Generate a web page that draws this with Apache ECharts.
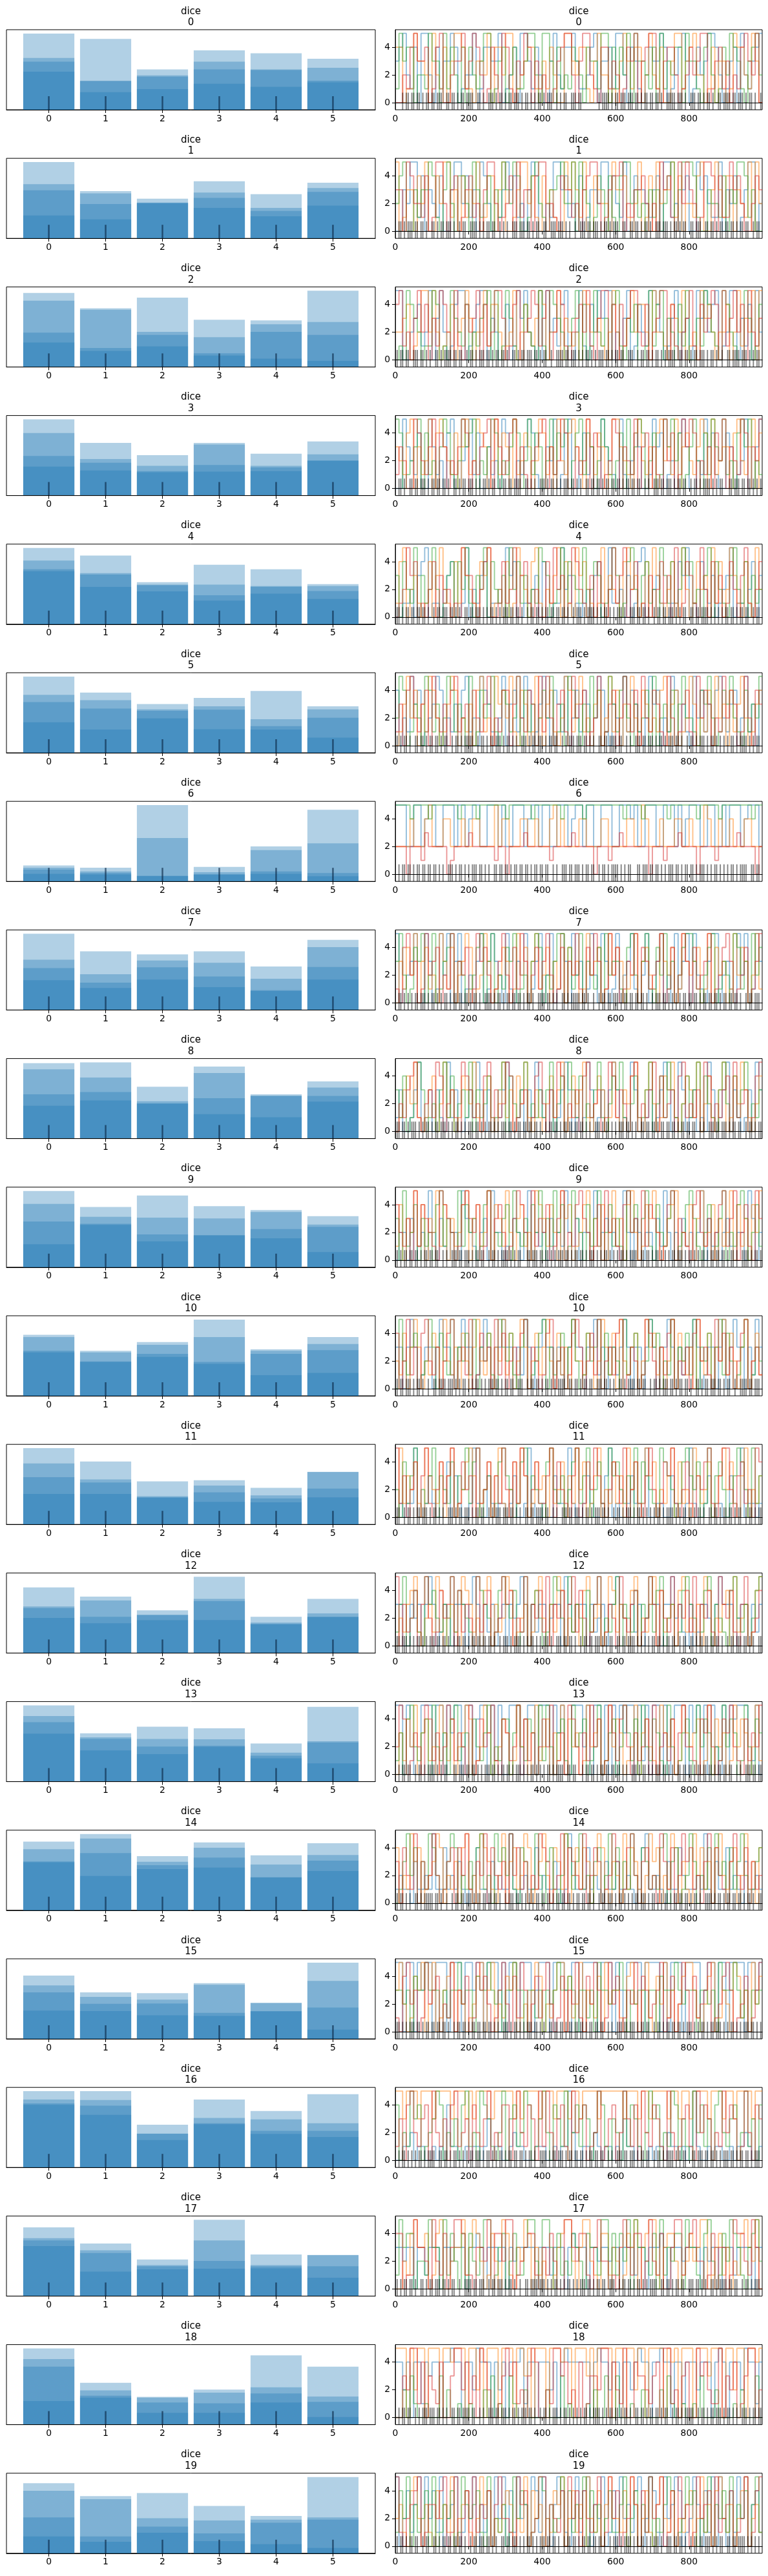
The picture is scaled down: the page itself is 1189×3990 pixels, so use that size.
<!DOCTYPE html>
<html>
<head>
<meta charset="utf-8">
<script src="https://cdn.jsdelivr.net/npm/echarts@6/dist/echarts.min.js"></script>
<style>
html, body { margin: 0; padding: 0; background: #fff; }
#chart { width: 1189px; height: 3990px; }
</style>
</head>
<body>
<div id="chart"></div>
<script>
const varName = 'dice'
const categories = [0, 1, 2, 3, 4, 5]
const chainColors = ['#1f77b4', '#ff7f0e', '#2ca02c', '#d62728']
const drawTicks = [0, 200, 400, 600, 800]
const valueTicks = [0, 2, 4]
const drawStep = 10      // one trace digit = 10 draws
const divStep = 5        // one divergence flag = 5 draws
const lastDraw = 999

// bar heights per category, the 4 chain layers (relative units, tallest first)
const hist00 = [[1.00,0.68,0.63,0.50],[0.93,0.38,0.375,0.23],[0.53,0.45,0.435,0.27],[0.78,0.63,0.53,0.34],[0.74,0.53,0.52,0.30],[0.67,0.55,0.38,0.36]]
const hist01 = [[1.00,0.71,0.63,0.30],[0.62,0.59,0.45,0.25],[0.52,0.47,0.465,0.46],[0.75,0.60,0.53,0.40],[0.58,0.40,0.36,0.29],[0.73,0.66,0.61,0.43]]
const hist02 = [[0.97,0.87,0.45,0.32],[0.77,0.75,0.25,0.21],[0.91,0.46,0.42,0.27],[0.62,0.39,0.18,0.15],[0.61,0.56,0.46,0.11],[1.00,0.59,0.42,0.08]]
const hist03 = [[1.00,0.82,0.52,0.38],[0.69,0.48,0.43,0.33],[0.53,0.39,0.32,0.305],[0.69,0.67,0.40,0.315],[0.55,0.39,0.37,0.32],[0.71,0.54,0.46,0.455]]
const hist04 = [[1.00,0.835,0.72,0.695],[0.90,0.67,0.65,0.49],[0.55,0.52,0.51,0.43],[0.78,0.52,0.38,0.31],[0.72,0.50,0.49,0.40],[0.525,0.50,0.435,0.33]]
const hist05 = [[1.00,0.76,0.665,0.40],[0.79,0.69,0.58,0.305],[0.64,0.57,0.55,0.45],[0.72,0.61,0.565,0.31],[0.81,0.44,0.35,0.305],[0.61,0.57,0.46,0.20]]
const hist06 = [[0.21,0.18,0.155,0.10],[0.18,0.13,0.11,0.09],[1.00,0.57,0.074,0.07],[0.19,0.12,0.094,0.087],[0.46,0.41,0.13,0.10],[0.94,0.50,0.11,0.068]]
const hist07 = [[1.00,0.66,0.55,0.39],[0.77,0.47,0.36,0.29],[0.73,0.65,0.56,0.40],[0.77,0.62,0.44,0.30],[0.57,0.41,0.26,0.25],[0.92,0.825,0.565,0.40]]
const hist08 = [[0.99,0.91,0.58,0.43],[1.00,0.80,0.61,0.50],[0.68,0.49,0.462,0.459],[0.945,0.86,0.53,0.32],[0.58,0.562,0.56,0.28],[0.75,0.67,0.56,0.485]]
const hist09 = [[1.00,0.83,0.60,0.30],[0.79,0.66,0.57,0.555],[0.94,0.65,0.43,0.34],[0.80,0.64,0.422,0.416],[0.75,0.725,0.50,0.38],[0.67,0.56,0.53,0.20]]
const hist10 = [[0.80,0.77,0.59,0.57],[0.59,0.57,0.45,0.444],[0.705,0.67,0.55,0.51],[1.00,0.77,0.444,0.42],[0.61,0.59,0.55,0.27],[0.77,0.68,0.60,0.30]]
const hist11 = [[1.00,0.80,0.62,0.40],[0.825,0.59,0.55,0.40],[0.565,0.37,0.356,0.35],[0.58,0.51,0.42,0.295],[0.48,0.38,0.34,0.29],[0.69,0.687,0.47,0.356]]
const hist12 = [[0.86,0.61,0.59,0.46],[0.74,0.69,0.475,0.39],[0.56,0.50,0.498,0.43],[1.00,0.71,0.68,0.434],[0.475,0.40,0.383,0.377],[0.71,0.52,0.478,0.47]]
const hist13 = [[1.00,0.86,0.78,0.63],[0.633,0.58,0.56,0.41],[0.72,0.56,0.46,0.36],[0.70,0.556,0.47,0.456],[0.50,0.38,0.34,0.305],[0.98,0.53,0.514,0.24]]
const hist14 = [[0.90,0.80,0.64,0.63],[1.00,0.94,0.75,0.45],[0.71,0.635,0.59,0.54],[0.89,0.82,0.69,0.56],[0.72,0.60,0.432,0.43],[0.88,0.725,0.65,0.515]]
const hist15 = [[0.83,0.70,0.61,0.37],[0.61,0.55,0.46,0.364],[0.60,0.515,0.464,0.31],[0.73,0.71,0.34,0.30],[0.473,0.47,0.364,0.36],[1.00,0.76,0.41,0.12]]
const hist16 = [[1.00,0.89,0.84,0.82],[1.00,0.885,0.81,0.69],[0.56,0.445,0.442,0.36],[0.89,0.65,0.58,0.566],[0.74,0.63,0.48,0.44],[0.96,0.58,0.48,0.40]]
const hist17 = [[0.90,0.76,0.73,0.655],[0.69,0.60,0.565,0.32],[0.48,0.405,0.39,0.35],[1.00,0.73,0.46,0.36],[0.546,0.405,0.389,0.363],[0.54,0.536,0.39,0.24]]
const hist18 = [[1.00,0.86,0.76,0.31],[0.55,0.45,0.38,0.354],[0.364,0.354,0.29,0.155],[0.46,0.42,0.28,0.155],[0.91,0.49,0.41,0.29],[0.76,0.37,0.30,0.10]]
const hist19 = [[0.92,0.82,0.47,0.22],[0.75,0.71,0.22,0.15],[0.79,0.46,0.35,0.27],[0.62,0.43,0.26,0.16],[0.49,0.44,0.40,0.12],[1.00,0.47,0.44,0.07]]

// trace values, one digit per 10 draws, 4 chains per dice
const trace00 = [
  '3452140552 0413354012 2501443350 1240553142 0035214453 1124503341 5520431024 3354012453 0142355420 1340521345',
  '4401153320 5214035541 1033250442 5501234410 3142005532 4410352201 0353144025 2140035513 4522014033 0154421530',
  '1534402215 3305142040 4213550134 0241135520 5530412143 2043315504 1425053321 4051324405 3310452014 2543103452',
  '0021453340 1450023351 3542014205 4103254031 2001345520 3552104413 2014350345 5103442012 4235501341 3021453250']
const trace01 = [
  '0032551403 2140035524 1305420013 5341203540 0215534120 4013325504 2150043321 3405512034 0053421150 3240135502',
  '5013304250 0425513041 3250144035 0013552410 4231005353 1500432205 3341025014 0523351402 2145003531 4403215052',
  '2450031335 4103520442 0531240315 3254001452 1033452250 5320143041 0455231203 1302450355 5410032214 0325541300',
  '3305422140 1552034013 4120355201 2405133045 5021043312 0345520134 4502133420 2053410525 3201554041 1534200243']
const trace02 = [
  '5500234125 0352014550 1245503200 4015352105 0523145002 5104253550 2035014215 5420135023 0153524501 2550314052',
  '2234012552 5201240235 3022514420 1250242135 4022503212 0542231025 2013524420 5221043250 1205342022 4025132505',
  '0105432011 5401053214 0213450501 5310042105 1054320135 0401521304 5103240015 1450320415 0031542105 4210053014',
  '4512035240 3154205104 2350412553 0145023541 3502541023 4251035504 0413552140 2355041023 5104235405 1352405213']
const trace03 = [
  '0053214005 3120450023 5140031205 4002135410 0325014500 2413005321 0510243001 5340120453 0021534100 4301250035',
  '3214503125 0453214035 1254302514 3051243025 4130521453 2053143015 5321045213 0452315034 2135405123 3045213504',
  '5401235041 2035410253 4502135402 1354025143 0251435024 5143025310 2405135402 4015352401 3520415325 1204535021',
  '1320054213 5043021354 0213450531 2450310234 5031254003 1250430125 4032150340 3105240153 5402130425 0321540325']
const trace04 = [
  '0011203450 1102340015 0213401120 5340011230 4001152301 0120340051 1203014500 2310011435 0104213012 3501102403',
  '1450231014 0352104153 2104350120 4015320451 0213504105 3421015032 1045230140 5310241052 0142305140 2531041052',
  '3042150312 5201340425 1032504213 0524130215 4301250432 1502430125 3014520341 2053140253 4120350421 0352140312',
  '0125340102 4031201053 3102450014 1250341020 0415230154 2103041025 1350240103 0241305014 3105204130 1420351024']
const trace05 = [
  '4021534012 3540213045 1205431025 0341254013 5204315024 1430254103 2051431025 3402154031 0524130452 1340251304',
  '0135240315 4201354021 3045120534 2510430152 0341025413 5120340251 4031520431 2145034012 5302140523 0413520134',
  '2540132054 1302541320 5014235104 3125041302 4250130542 0315240153 1452031240 5023140352 2104352014 3521041325',
  '1304521340 5213045123 0421350214 4035214305 1520341052 3401250134 0253140521 4310520134 1052430215 2430152043']
const trace06 = [
  '5552255245 5225552552 4552255525 2255524552 5522555245 5255225552 2555452255 5225552524 5552255225 2555245552',
  '2222422245 2224422242 2442222524 4222442242 2245242222 4422224422 2224422542 2242224422 4222542242 2422244222',
  '5555455554 5555555455 5545555555 4555555455 5555545555 5455555555 5545555455 5555455555 5545555545 5555555455',
  '2220222132 2222012222 3222222122 0222232222 2212222232 2222022212 2322222220 2221222322 2202222122 2223222202']
const trace07 = [
  '5012350053 0152503501 2035015320 5103250135 0250153052 3015205301 5023510250 1350205135 0521035502 3105250153',
  '0314250341 2053140235 4012530124 3015240351 2403150423 0152340152 4301250342 1053240153 2340150423 0152430251',
  '3520143502 5013450320 1245035021 4350120354 0213550412 5032140523 3104520351 0425130245 5310245013 2054130524',
  '1045230152 3402150324 0153420135 2041530241 3520140325 1042530152 4013250431 2350140253 0412350124 5301240135']
const trace08 = [
  '1300135013 0310513001 3153031013 5001303153 1030135301 0153013035 3010531013 0135301530 1301053013 5031013053',
  '0134251013 4025130143 2510341025 1304251031 0241350142 3510243015 1032451035 2014351024 3150241035 0142531024',
  '3140125301 2035140231 5031240135 0421350213 1350240531 4021351024 3510240135 0241531024 1350421035 2041350213',
  '0213451023 1540231054 3120450312 5401230145 2031540213 0451230154 1320450213 5041230451 2130540213 4051230145']
const trace09 = [
  '0220301205 2031022053 2102305220 1032025021 2030215203 0220512302 1052032022 0315202031 2025031202 3102205302',
  '1403251403 2514031245 0341250431 5203412054 3142053401 2450314025 1304520143 5201345021 4035124031 2504130425',
  '3051240312 0451320514 2301450213 4052130425 0315240153 2041350241 3105240351 0421350124 5310240135 0214530241',
  '4213051432 1054320145 3240150342 0135420513 2401350214 5320140523 1045230514 3201450321 0452130245 1350241053']
const trace10 = [
  '3303530133 0353310353 3013530335 3303153033 5330310353 3033513033 1353033035 3033530313 3530133035 0353303153',
  '2140353021 4305213042 0352140325 1402530241 3520413052 2143025314 0521340253 4130250421 3052140325 1420350241',
  '0521340125 3042150324 1503241053 2410350124 5031240352 0142350413 2051340125 3402150324 1503240351 4201350132',
  '4025130452 1302450231 5014230514 0231450320 1450230145 3024150231 4501320154 2031450213 0452310524 1302450231']
const trace11 = [
  '0101150013 1001403100 1510031011 0130015100 1003110510 0131001350 1001310150 0110031001 5100130110 0310501101',
  '0513241053 2140350124 5301240351 0241530142 3051240315 2401350214 1305240153 4021350412 0531240135 2410350213',
  '2041350213 5032140325 1450230145 3201450321 0452130245 1350241053 4213051432 1054320145 3240150342 0135420513',
  '5130240351 0241350142 3051240315 2041530241 1350421035 0142531024 3150241035 2014351024 1032451035 5203412054']
const trace12 = [
  '3300323035 3013203330 3530313023 0323530313 3023305313 3303123033 5320313023 3303352310 3013320353 3302330313',
  '0213451023 1540231054 3120450312 5401230145 2031540213 0451230154 1320450213 5041230451 2130540213 4051230145',
  '1350241053 4213051432 1054320145 3240150342 0135420513 2041350213 5032140325 1450230145 3201450321 0452130245',
  '5031240352 0142350413 2051340125 3402150324 1503240351 4201350132 0521340125 3042150324 1503241053 2410350124']
const trace13 = [
  '5505200555 0550535505 5045505150 0555045505 5505350055 5250550505 0535505150 5505045550 5350505205 0545550150',
  '0314250341 2053140235 4012530124 3015240351 2403150423 0152340152 4301250342 1053240153 2340150423 0152430251',
  '1304521340 5213045123 0421350214 4035214305 1520341052 3401250134 0253140521 4310520134 1052430215 2430152043',
  '2540132054 1302541320 5014235104 3125041302 4250130542 0315240153 1452031240 5023140352 2104352014 3521041325']
const trace14 = [
  '1211031121 5114121310 1241103121 1510121141 2113101521 1141210311 3112101451 1210311421 1121510311 4121031121',
  '4021534012 3540213045 1205431025 0341254013 5204315024 1430254103 2051431025 3402154031 0524130452 1340251304',
  '0135240315 4201354021 3045120534 2510430152 0341025413 5120340251 4031520431 2145034012 5302140523 0413520134',
  '3042150312 5201340425 1032504213 0524130215 4301250432 1502430125 3014520341 2053140253 4120350421 0352140312']
const trace15 = [
  '5505505355 0555055505 5355055505 0550555035 5505553055 0555505550 5305555055 5505055505 5550355055 0555505535',
  '3520143502 5013450320 1245035021 4350120354 0213550412 5032140523 3104520351 0425130245 5310245013 2054130524',
  '3323043353 3303133523 3043353230 3353303313 0323533430 3313053323 3530323303 3043335323 3303323053 3353130323',
  '1045230152 3402150324 0153420135 2041530241 3520140325 1042530152 4013250431 2350140253 0412350124 5301240135']
const trace16 = [
  '0011201100 1010411001 0110130110 0121100011 1001011520 0110210110 1031101001 0110211010 1510010110 0101121001',
  '5535553555 3555535553 5355553555 5535355553 5553555355 3555535555 5535553553 5555355355 3555535553 5535555355',
  '4021534012 3540213045 1205431025 0341254013 5204315024 1430254103 2051431025 3402154031 0524130452 1340251304',
  '1304521340 5213045123 0421350214 4035214305 1520341052 3401250134 0253140521 4310520134 1052430215 2430152043']
const trace17 = [
  '3323303313 3303323330 3343033323 0323333303 3313330343 3303323323 3033313303 3343033323 3330323303 3313333033',
  '0021453340 1450023351 3542014205 4103254031 2001345520 3552104413 2014350345 5103442012 4235501341 3021453250',
  '1534402215 3305142040 4213550134 0241135520 5530412143 2043315504 1425053321 4051324405 3310452014 2543103452',
  '4401153320 5214035541 1033250442 5501234410 3142005532 4410352201 0353144025 2140035513 4522014033 0154421530']
const trace18 = [
  '4424044143 4404454404 4254440424 0444514404 4424045444 4440454424 4044245440 4454404414 4424440454 0444254414',
  '5550525505 5505545550 5525055505 5505535055 5055545505 5535055550 5505525505 5550545055 5055535550 5525505545',
  '0020310010 0030200100 1000203010 0310020000 0200030100 0010200300 3000100200 0020310010 0103000200 0010200030',
  '0032551403 2140035524 1305420013 5341203540 0215534120 4013325504 2150043321 3405512034 0053421150 3240135502']
const trace19 = [
  '5024135052 4150235014 2503140525 0415230541 5203541025 1450325014 0523145025 4105235401 2530415052 0415250341',
  '2310452031 0423150234 1025340213 4302150423 0214350241 3052140352 2140530241 0352140213 4025130452 1302450231',
  '1425031240 5013240153 2341050213 0152430125 4031250413 2504130241 1350240315 0213540125 3402150324 1503240351',
  '5102345013 3245015024 0513240352 2105340125 5032140524 0421350152 4012530415 2350140523 0152340512 3401250145']

// divergent draws, one flag per 5 draws
const div00 = '0000101101 1011010110 1101110011 0110101101 1110011010 0111010110 1011011101 0110101011 0101110010 1011001110 1100000000 0101111010 1101110111 0110101101 1011010011 1110111010 0111011010 1101001101 1110110111 0101101001'
const div01 = '0011010111 0110110100 1101011011 1010010110 0111101010 1101100101 0100111011 1011010110 0110011101 1101010010 0111011011 1010110101 1100110011 0110101101 0011101110 1011010110 0110111001 1011010110 1101101011 0110010110'
const div02 = '0101101100 1110110101 0011010111 1011011001 0110101110 1101011011 0100110101 1011101101 0110010011 1101101110 1010110101 0111011010 1101100111 0010110110 1011010101 1110011011 0101101110 1011010010 0110111101 1101010110'
const div03 = '1011010011 0110111010 1101101101 0011010110 1110101011 0101100101 1011011110 0110101001 1101011010 1011101101 0100110110 1101011011 0110101101 1011001010 0111011011 1010110110 0101101011 1101010110 0011011101 1011010101'
const div04 = '0110101101 1011011010 0101101110 1101010011 0110111010 1011010101 1101101101 0010110110 1011011011 0110100101 1101011110 1010110101 0111010011 1011011010 0101101101 1101010110 0110110111 1010101010 1101101011 0110010110'
const div05 = '1101011010 0110110101 1011010110 0101101011 1110010110 1011011101 0110101001 1101011011 1010110110 0101011101 1101101010 0110110111 1011001010 0111011011 1010110101 1101101001 0110101110 1011010101 0101101011 1101010110'
const div06 = '0010110110 1011011011 0110101001 1101011010 1011101101 0100110110 1101011011 0110101101 1011001010 0111011011 1010110110 0101101011 1101010110 0011011101 1011010101 1101101011 0110101110 1010110101 0101101011 1100110110'
const div07 = '1011010101 0110111010 1101010110 1011011011 0101101001 1110101101 0110110110 1011010011 1101101010 0110101111 1011010010 0101101101 1101011011 0110110100 1011101101 0101010110 1101101011 0110110101 1011011010 0101101110'
const div08 = '0110110101 1101010110 1011011101 0101101010 1110110101 0110101011 1011010110 1101101101 0010110110 1011011011 0110101001 1101011010 1011101101 0100110110 1101011011 0110101101 1011001010 0111011011 1010110110 0101101011'
const div09 = '1101011011 0110101101 1011001010 0111011011 1010110110 0101101011 1101010110 0011011101 1011010101 1101101011 0110101110 1010110101 0101101011 1100110110 1011010101 0110111010 1101010110 1011011011 0101101001 1110101101'
const div10 = '0101101110 1011010010 0110111101 1101010110 1010110101 0111011010 1101100111 0010110110 1011010101 1110011011 0101101100 1110110101 0011010111 1011011001 0110101110 1101011011 0100110101 1011101101 0110010011 1101101110'
const div11 = '1110010110 1011011101 0110101001 1101011011 1010110110 0101011101 1101101010 0110110111 1011001010 0111011011 1010110101 1101101001 0110101110 1011010101 0101101011 1101010110 1101011010 0110110101 1011010110 0101101011'
const div12 = '0110111010 1011010101 1101101101 0010110110 1011011011 0110100101 1101011110 1010110101 0111010011 1011011010 0101101101 1101010110 0110110111 1010101010 1101101011 0110010110 0110101101 1011011010 0101101110 1101010011'
const div13 = '1010110110 0101101011 1101010110 0011011101 1011010101 1101101011 0110101110 1010110101 0101101011 1100110110 0010110110 1011011011 0110101001 1101011010 1011101101 0100110110 1101011011 0110101101 1011001010 0111011011'
const div14 = '1101101010 0110101111 1011010010 0101101101 1101011011 0110110100 1011101101 0101010110 1101101011 0110110101 1011011010 0101101110 1011010101 0110111010 1101010110 1011011011 0101101001 1110101101 0110110110 1011010011'
const div15 = '0110101011 1011010110 1101101101 0010110110 1011011011 0110101001 1101011010 1011101101 0100110110 1101011011 0110101101 1011001010 0111011011 1010110110 0101101011 0110110101 1101010110 1011011101 0101101010 1110110101'
const div16 = '1010110101 0101101011 1100110110 1011010101 0110111010 1101010110 1011011011 0101101001 1110101101 1101011011 0110101101 1011001010 0111011011 1010110110 0101101011 1101010110 0011011101 1011010101 1101101011 0110101110'
const div17 = '1101011011 0100110101 1011101101 0110010011 1101101110 0101101110 1011010010 0110111101 1101010110 1010110101 0111011010 1101100111 0010110110 1011010101 1110011011 0101101100 1110110101 0011010111 1011011001 0110101110'
const div18 = '1010110110 0101011101 1101101010 0110110111 1011001010 0111011011 1010110101 1101101001 0110101110 1011010101 0101101011 1101010110 1101011010 0110110101 1011010110 0101101011 1110010110 1011011101 0110101001 1101011011'
const div19 = '1101101011 0110010110 0110101101 1011011010 0101101110 1101010011 0110111010 1011010101 1101101101 0010110110 1011011011 0110100101 1101011110 1010110101 0111010011 1011011010 0101101101 1101010110 0110110111 1010101010'

const hists = [hist00, hist01, hist02, hist03, hist04, hist05, hist06, hist07, hist08, hist09,
  hist10, hist11, hist12, hist13, hist14, hist15, hist16, hist17, hist18, hist19]
const traces = [trace00, trace01, trace02, trace03, trace04, trace05, trace06, trace07, trace08, trace09,
  trace10, trace11, trace12, trace13, trace14, trace15, trace16, trace17, trace18, trace19]
const divs = [div00, div01, div02, div03, div04, div05, div06, div07, div08, div09,
  div10, div11, div12, div13, div14, div15, div16, div17, div18, div19]

const FONT = 'DejaVu Sans'
const ROW_TOP = 46
const ROW_PITCH = 199.2
const AX_H = 124
const LEFT_X = 10, LEFT_W = 571
const RIGHT_X = 612, RIGHT_W = 568
const TRACE_MIN = -0.5125, TRACE_MAX = 5.2625
const BAR_HALF = 0.45

const digits = s => s.replace(/\s/g, '').split('').map(Number)

const tickLabel = { color: '#000', fontSize: 13.9, fontFamily: FONT }
const tick = { show: true, length: 5, inside: false, lineStyle: { color: '#000', width: 1 } }
const line = { show: true, lineStyle: { color: '#000', width: 1 } }

const grid = [], xAxis = [], yAxis = [], series = [], graphic = []

for (let r = 0; r < hists.length; r++) {
    const top = ROW_TOP + r * ROW_PITCH
    const hist = hists[r]
    const hMax = Math.max(...hist.flat())

    grid.push({ left: LEFT_X, top, width: LEFT_W, height: AX_H, show: true, borderColor: '#000', borderWidth: 1, outerBoundsMode: 'none' })
    grid.push({ left: RIGHT_X, top, width: RIGHT_W, height: AX_H, show: true, borderColor: '#000', borderWidth: 1, outerBoundsMode: 'none' })

    // distribution panel
    xAxis.push({
        type: 'value', gridIndex: 2 * r, min: -0.745, max: 5.745, z: 10,
        axisLine: line,
        axisTick: { ...tick, customValues: categories },
        axisLabel: { ...tickLabel, margin: 7, customValues: categories },
        splitLine: { show: false }
    })
    yAxis.push({ type: 'value', gridIndex: 2 * r, min: 0, max: hMax * 1.05, show: false })

    // trace panel
    xAxis.push({
        type: 'value', gridIndex: 2 * r + 1, min: 0, max: lastDraw, z: 10,
        axisLine: line,
        axisTick: { ...tick, customValues: drawTicks },
        axisLabel: { ...tickLabel, margin: 7, customValues: drawTicks },
        splitLine: { show: false }
    })
    yAxis.push({
        type: 'value', gridIndex: 2 * r + 1, min: TRACE_MIN, max: TRACE_MAX, z: 10,
        axisLine: { ...line, onZero: false },
        axisTick: { ...tick, customValues: valueTicks },
        axisLabel: { ...tickLabel, margin: 8, customValues: valueTicks },
        splitLine: { show: false }
    })

    const bars = []
    hist.forEach((layers, c) => layers.forEach(h => bars.push([categories[c], h])))
    series.push({
        type: 'custom', xAxisIndex: 2 * r, yAxisIndex: 2 * r, data: bars,
        renderItem(params, api) {
            const x = api.value(0), h = api.value(1)
            const p0 = api.coord([x - BAR_HALF, h])
            const p1 = api.coord([x + BAR_HALF, 0])
            return {
                type: 'rect',
                shape: { x: p0[0], y: p0[1], width: p1[0] - p0[0], height: p1[1] - p0[1] },
                style: { fill: 'rgba(31,119,180,0.35)' }
            }
        }
    })
    // divergence rug on the distribution
    series.push({
        type: 'custom', xAxisIndex: 2 * r, yAxisIndex: 2 * r, data: categories.map(c => [c]), z: 3,
        renderItem(params, api) {
            const p = api.coord([api.value(0), 0])
            return {
                type: 'line',
                shape: { x1: p[0], y1: p[1], x2: p[0], y2: p[1] - 21 },
                style: { stroke: 'rgba(10,40,70,0.65)', lineWidth: 2.5 }
            }
        }
    })

    traces[r].forEach((s, c) => {
        const vals = digits(s)
        const data = vals.map((v, i) => [i * drawStep, v])
        data.push([lastDraw, vals[vals.length - 1]])
        series.push({
            type: 'line', xAxisIndex: 2 * r + 1, yAxisIndex: 2 * r + 1, data,
            step: 'end', showSymbol: false, symbol: 'none', clip: true, silent: true,
            lineStyle: { color: chainColors[c], width: 1.8, opacity: 0.5 }
        })
    })

    const flags = digits(divs[r])
    const divData = []
    flags.forEach((f, i) => { if (f) divData.push([i * divStep]) })
    series.push({
        type: 'custom', xAxisIndex: 2 * r + 1, yAxisIndex: 2 * r + 1, data: divData, z: 4, clip: true,
        renderItem(params, api) {
            const x = api.value(0)
            const a = api.coord([x, TRACE_MIN])
            const b = api.coord([x, 0.72])
            return {
                type: 'line',
                shape: { x1: a[0], y1: a[1], x2: b[0], y2: b[1] },
                style: { stroke: 'rgba(0,0,0,0.5)', lineWidth: 1.8 }
            }
        }
    })

    const title = `${varName}\n${r}`
    ;[LEFT_X + LEFT_W / 2, RIGHT_X + RIGHT_W / 2].forEach(cx => {
        graphic.push({
            type: 'text', x: cx, y: top - 37, silent: true,
            style: { text: title, align: 'center', verticalAlign: 'top', fontSize: 15, lineHeight: 17.5, fontFamily: FONT, fill: '#000' }
        })
    })
}

const chart = echarts.init(document.getElementById('chart'))
chart.setOption({
    animation: false,
    backgroundColor: '#fff',
    grid, xAxis, yAxis, series, graphic
})
</script>
</body>
</html>
